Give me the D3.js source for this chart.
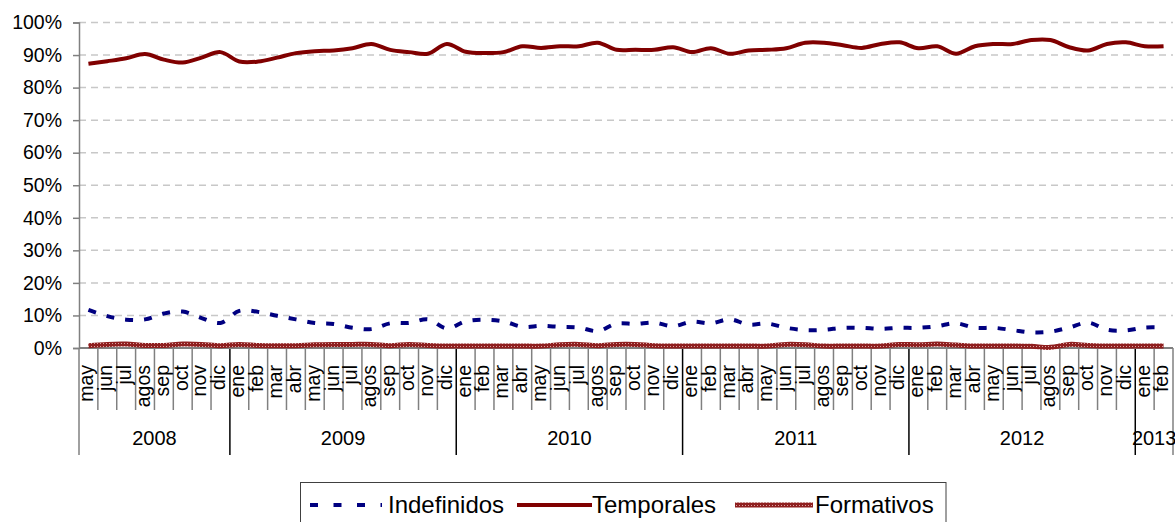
<!DOCTYPE html>
<html>
<head>
<meta charset="utf-8">
<script src="https://cdn.jsdelivr.net/npm/d3@7"></script>
<style>
  body { margin: 0; background: #fff; }
  svg { display: block; font-family: "Liberation Sans", Arial, sans-serif; }
</style>
</head>
<body>
<script>
const months = ["may","jun","jul","agos","sep","oct","nov","dic",
  "ene","feb","mar","abr","may","jun","jul","agos","sep","oct","nov","dic",
  "ene","feb","mar","abr","may","jun","jul","agos","sep","oct","nov","dic",
  "ene","feb","mar","abr","may","jun","jul","agos","sep","oct","nov","dic",
  "ene","feb","mar","abr","may","jun","jul","agos","sep","oct","nov","dic",
  "ene","feb"];
const years = ["2008","2009","2010","2011","2012","2013"];

const indefinidos = [11.7, 9.8, 8.7, 8.8, 10.6, 11.2, 9.2, 7.7,
  11.4, 11.1, 9.9, 8.8, 7.7, 7.4, 6.2, 5.8, 7.6, 7.7, 8.8, 6.0,
  8.2, 8.7, 8.2, 6.5, 6.8, 6.5, 6.3, 5.2, 7.5, 7.4, 7.8, 6.7,
  8.1, 7.6, 8.8, 7.2, 7.5, 6.2, 5.5, 5.6, 6.2, 6.2, 5.9, 6.2,
  6.2, 6.7, 7.6, 6.2, 6.2, 5.5, 4.8, 5.0, 6.3, 7.8, 5.6, 5.4,
  6.3, 6.3];
const temporales = [87.3, 88.1, 89.0, 90.3, 88.6, 87.7, 89.2, 90.9,
  88.0, 88.0, 89.2, 90.6, 91.2, 91.4, 92.1, 93.4, 91.6, 90.9, 90.4, 93.4,
  91.0, 90.6, 90.9, 92.7, 92.2, 92.7, 92.7, 93.8, 91.6, 91.6, 91.6, 92.4,
  90.9, 92.1, 90.4, 91.4, 91.6, 92.1, 93.8, 93.8, 93.0, 92.2, 93.4, 93.9,
  92.1, 92.7, 90.4, 92.7, 93.4, 93.4, 94.6, 94.6, 92.4, 91.4, 93.4, 93.9,
  92.7, 92.7];
const formativos = [0.7, 1.1, 1.2, 0.8, 0.8, 1.2, 1.1, 0.7,
  1.1, 0.8, 0.7, 0.7, 1.0, 1.1, 1.1, 1.1, 0.7, 1.1, 0.8, 0.6,
  0.6, 0.6, 0.6, 0.6, 0.6, 1.0, 1.1, 0.7, 1.1, 1.1, 0.7, 0.6,
  0.6, 0.6, 0.6, 0.6, 0.6, 1.1, 1.0, 0.6, 0.6, 0.6, 0.6, 1.1,
  1.0, 1.2, 0.9, 0.6, 0.6, 0.6, 0.5, 0.2, 1.1, 0.8, 0.6, 0.6,
  0.6, 0.6];
const yTicks = [0, 10, 20, 30, 40, 50, 60, 70, 80, 90, 100];

const width = 1175, height = 522;
const plot = {left: 79, right: 1173, top: 22.5, bottom: 348};

const svg = d3.select("body").append("svg")
  .attr("width", width)
  .attr("height", height);

const defs = svg.append("defs");
const pat = defs.append("pattern")
  .attr("id", "formPat")
  .attr("patternUnits", "userSpaceOnUse")
  .attr("width", 3).attr("height", 3);
pat.append("rect").attr("width", 3).attr("height", 3).attr("fill", "#8f1f1f");
pat.append("rect").attr("x", 1).attr("y", 1).attr("width", 1).attr("height", 1).attr("fill", "#dca4a4");

const idx = months.map((m, i) => i);

const x = d3.scaleBand()
  .domain(idx)
  .range([plot.left, plot.right])
  .padding(0);

const y = d3.scaleLinear()
  .domain([0, 100])
  .range([plot.bottom, plot.top]);

const cx = i => x(i) + x.bandwidth() / 2;

// gridlines
svg.append("g")
  .selectAll("line")
  .data(yTicks.filter(d => d > 0))
  .enter()
  .append("line")
  .attr("x1", plot.left)
  .attr("x2", plot.right)
  .attr("y1", d => y(d))
  .attr("y2", d => y(d))
  .attr("stroke", "#c8c8c8")
  .attr("stroke-width", 1.5)
  .attr("stroke-dasharray", "7,5");

// y axis
const yAxis = svg.append("g")
  .attr("transform", `translate(${plot.left},0)`)
  .call(d3.axisLeft(y).tickValues(yTicks).tickSize(6).tickPadding(11).tickFormat(d => d + "%"));
yAxis.select(".domain").attr("stroke", "#808080").attr("stroke-width", 1.5);
yAxis.selectAll(".tick line").attr("stroke", "#808080").attr("stroke-width", 1.5);
yAxis.selectAll(".tick text")
  .attr("fill", "#000")
  .style("font-size", "19.5px")
  .style("font-family", "'Liberation Sans', Arial, sans-serif");

// category separators
const yearStarts = idx.filter(i => i === 0 || months[i] === "ene");
const bounds = idx.concat([months.length]);
const bx = i => i < months.length ? x(i) : plot.right;
svg.append("g")
  .selectAll("line")
  .data(bounds)
  .enter()
  .append("line")
  .attr("x1", bx)
  .attr("x2", bx)
  .attr("y1", plot.bottom)
  .attr("y2", i => (yearStarts.includes(i) || i === months.length) ? 455 : 410)
  .attr("stroke", i => (yearStarts.includes(i) && i !== 0) ? "#000" : "#808080")
  .attr("stroke-width", 1.5);

// x axis line
svg.append("line")
  .attr("x1", plot.left).attr("x2", plot.right)
  .attr("y1", plot.bottom).attr("y2", plot.bottom)
  .attr("stroke", "#808080")
  .attr("stroke-width", 2);

// month labels
svg.append("g")
  .selectAll("text")
  .data(months)
  .enter()
  .append("text")
  .attr("transform", (d, i) => `translate(${cx(i)},365) rotate(-90)`)
  .attr("dy", "0.25em")
  .attr("text-anchor", "end")
  .style("font-size", "19.5px")
  .text(d => d);

// year labels
svg.append("g")
  .selectAll("text")
  .data(years)
  .enter()
  .append("text")
  .attr("x", (d, k) => {
    const s = yearStarts[k];
    const e = k + 1 < yearStarts.length ? yearStarts[k + 1] : months.length;
    return (bx(s) + bx(e)) / 2;
  })
  .attr("y", 445)
  .attr("text-anchor", "middle")
  .style("font-size", "20px")
  .text(d => d);

// lines
const line = d3.line()
  .x((d, i) => cx(i))
  .y(d => y(d))
  .curve(d3.curveCatmullRom.alpha(0.5));

svg.append("path")
  .datum(formativos)
  .attr("d", line)
  .attr("fill", "none")
  .attr("stroke", "url(#formPat)")
  .attr("stroke-width", 5);

svg.append("path")
  .datum(indefinidos)
  .attr("d", line)
  .attr("fill", "none")
  .attr("stroke", "#000080")
  .attr("stroke-width", 4)
  .attr("stroke-dasharray", "8,11");

svg.append("path")
  .datum(temporales)
  .attr("d", line)
  .attr("fill", "none")
  .attr("stroke", "#800000")
  .attr("stroke-width", 4)
  .attr("stroke-linejoin", "round");

// legend
const legend = svg.append("g");
legend.append("rect")
  .attr("x", 300.5).attr("y", 482.5)
  .attr("width", 645.5).attr("height", 60)
  .attr("fill", "#fff")
  .attr("stroke", "#404040")
  .attr("stroke-width", 1);

const legendItems = [
  {name: "Indefinidos", x1: 310, x2: 382, tx: 388, stroke: "#000080", dash: "8,15.5", w: 4},
  {name: "Temporales", x1: 517, x2: 592, tx: 592, stroke: "#800000", dash: null, w: 4},
  {name: "Formativos", x1: 735, x2: 813, tx: 815, stroke: "url(#formPat)", dash: null, w: 5}
];
legendItems.forEach(d => {
  legend.append("line")
    .attr("x1", d.x1).attr("x2", d.x2)
    .attr("y1", 505).attr("y2", 505)
    .attr("stroke", d.stroke)
    .attr("stroke-width", d.w)
    .attr("stroke-dasharray", d.dash);
  legend.append("text")
    .attr("x", d.tx)
    .attr("y", 513)
    .style("font-size", "24px")
    .text(d.name);
});
</script>
</body>
</html>
